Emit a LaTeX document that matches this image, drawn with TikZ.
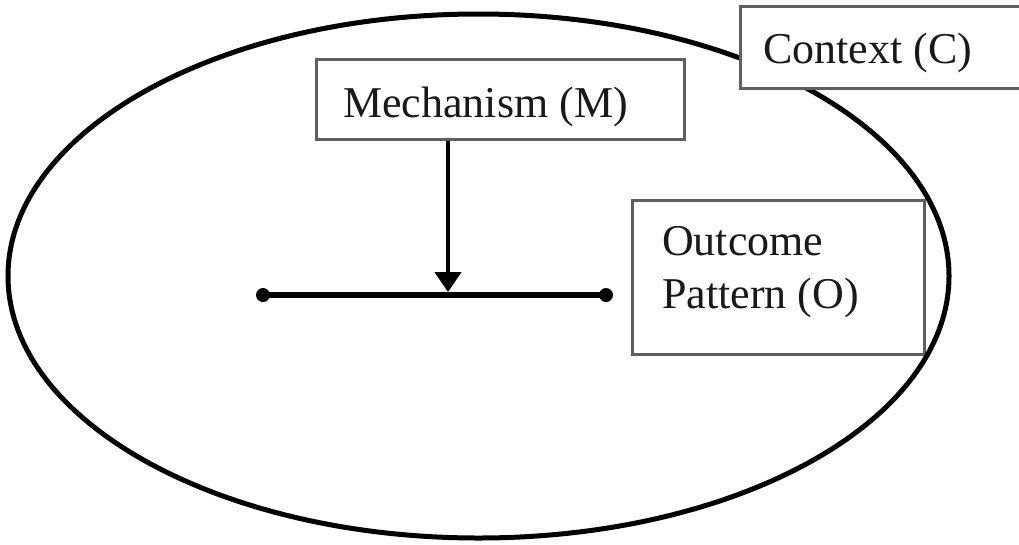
\documentclass[tikz,border=0pt]{standalone}
\usepackage{fontspec}
\setmainfont{Liberation Serif}
\usetikzlibrary{arrows.meta}
\definecolor{boxgray}{RGB}{95,95,95}
\definecolor{inkblack}{RGB}{25,25,25}
\tikzset{
  boxrect/.style={draw=boxgray, line width=3pt, fill=white, rectangle, inner sep=0pt, anchor=north west},
  lbl/.style={anchor=base west, inner sep=0pt, text=inkblack, font=\fontsize{44}{53}\selectfont},
  dotnode/.style={circle, fill=black, inner sep=0pt, minimum size=14pt},
  flowline/.style={line width=6pt, black},
  flowarrow/.style={line width=4.5pt, black, -{Triangle[width=26pt,length=20pt]}},
  contextline/.style={line width=5pt, black}
}
\begin{document}
\begin{tikzpicture}[x=1pt,y=-1pt]
\useasboundingbox (0,0) rectangle (1019,544);
\clip (0,0) rectangle (1019,544);
% outcome box (under the ellipse)
\node[boxrect, draw=boxgray, fill=none, minimum width=292pt, minimum height=154pt] (obox) at (631,199) {};
% context ellipse
\draw[contextline] (478.5,276) ellipse [x radius=470.5pt, y radius=262pt];
% context box (over the ellipse)
\node[boxrect, minimum width=310pt, minimum height=82pt] (cbox) at (739,5) {};
% mechanism box
\node[boxrect, minimum width=368pt, minimum height=80pt] (mbox) at (315,58) {};
% texts
\node[lbl] (ctext) at (763,63) {Context (C)};
\node[lbl] (mtext) at (343,117) {Mechanism (M)};
\node[lbl] (otext1) at (662,255) {Outcome};
\node[lbl] (otext2) at (662,308) {Pattern (O)};
% line with dots
\node[dotnode] (dl) at (263,295) {};
\node[dotnode] (dr) at (606,295) {};
\draw[flowline] (dl.center) -- (dr.center);
\coordinate (junc) at (448,292);
\draw[flowarrow] (mbox.south -| junc) -- (junc);
\end{tikzpicture}
\end{document}
